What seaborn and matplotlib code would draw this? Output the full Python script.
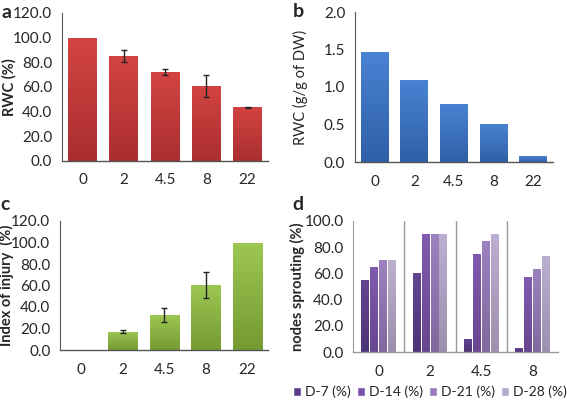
import matplotlib
matplotlib.use("Agg")
import matplotlib.pyplot as plt
import numpy as np
import pandas as pd
import seaborn as sns
from matplotlib.colors import LinearSegmentedColormap

# x categories (shared)
times = ["0", "2", "4.5", "8", "22"]

# panel a: RWC (%)
rwc_pct = [100.0, 85.0, 72.0, 61.0, 43.5]
rwc_pct_err = [0.0, 5.0, 2.5, 9.0, 0.5]

# panel b: RWC (g/g of DW)
rwc_gdw = [1.47, 1.10, 0.78, 0.51, 0.08]

# panel c: index of injury (%)
injury = [0.0, 17.0, 32.5, 60.5, 100.0]
injury_err = [0.0, 1.5, 6.5, 12.5, 0.0]

# panel d: nodes sprouting (%)
sprout_times = ["0", "2", "4.5", "8"]
days = ["D-7 (%)", "D-14 (%)", "D-21 (%)", "D-28 (%)"]
sprout = {
    "D-7 (%)": [55.0, 60.0, 10.0, 3.0],
    "D-14 (%)": [65.0, 90.0, 75.0, 57.0],
    "D-21 (%)": [70.0, 90.0, 85.0, 63.0],
    "D-28 (%)": [70.0, 90.0, 90.0, 73.0],
}

PURPLES = ["#5b3c8c", "#7a52aa", "#977bbb", "#b8aacd"]
TICK_FS = 11
LEGEND_FS = 10
LABEL_FS = 10.5

sns.set_style("white")
plt.rcParams["font.family"] = ["Lato", "DejaVu Sans"]
plt.rcParams["axes.edgecolor"] = "#555555"


def gradient_bars(ax, top, bottom):
    """Replace flat bar faces with a vertical light-to-dark gradient."""
    for p in list(ax.patches):
        h = p.get_height()
        if h <= 0:
            continue
        x0, y0 = p.get_x(), p.get_y()
        w = p.get_width()
        c = p.get_facecolor()
        cmap = LinearSegmentedColormap.from_list("g", [bottom(c), top(c)])
        img = ax.imshow(np.linspace(0, 1, 64).reshape(-1, 1), cmap=cmap,
                        origin="lower", extent=(x0, x0 + w, y0, y0 + h),
                        aspect="auto", zorder=p.get_zorder(), interpolation="bilinear")
        img.set_clip_path(p)
        p.set_facecolor("none")


def shade(f):
    def _s(c):
        c = np.array(c[:3])
        if f > 1:
            return tuple(c + (1 - c) * (f - 1))
        return tuple(c * f)
    return _s


def add_errors(ax, vals, errs):
    # only bars that actually have an error bar
    idx = [i for i, e in enumerate(errs) if e > 0]
    ax.errorbar(idx, [vals[i] for i in idx], yerr=[errs[i] for i in idx], fmt="none",
                ecolor="#222222", elinewidth=1, capsize=2.5, zorder=5)


def style_axes(ax, n, ymax, ystep, ylabel, label_x, bold=True, xpad=9):
    ticks = np.arange(0, ymax + ystep / 2, ystep)
    ax.set_xlim(-0.5, n - 0.5)
    ax.set_ylim(0, ymax)
    ax.set_yticks(ticks)
    ax.set_yticklabels([f"{v:.1f}" for v in ticks])
    ax.set_xticks(np.arange(-0.5, n, 1.0), minor=True)
    ax.tick_params(axis="x", which="major", length=0, pad=xpad, labelsize=TICK_FS)
    ax.tick_params(axis="x", which="minor", length=4, width=0.8, color="#555555", direction="out")
    ax.tick_params(axis="y", length=4, width=0.8, color="#555555", direction="out",
                   labelsize=TICK_FS, pad=3)
    ax.spines["top"].set_visible(False)
    ax.spines["right"].set_visible(False)
    ax.spines["left"].set_linewidth(0.8)
    ax.spines["bottom"].set_linewidth(1.0)
    ax.set_xlabel("")
    ax.set_ylabel(ylabel, fontsize=LABEL_FS, fontweight="bold" if bold else "normal")
    ax.yaxis.set_label_coords(label_x, 0.5)


fig = plt.figure(figsize=(5.67, 4.0), dpi=100)
ax_a = fig.add_axes([0.109, 0.5975, 0.364, 0.37])
ax_b = fig.add_axes([0.626, 0.595, 0.349, 0.375])
ax_c = fig.add_axes([0.106, 0.125, 0.367, 0.3225])
ax_d = fig.add_axes([0.623, 0.12, 0.361, 0.3275])

# a
df_a = pd.DataFrame({"time": times, "rwc": rwc_pct})
sns.barplot(data=df_a, x="time", y="rwc", color="#d03939", saturation=1, width=0.7,
            errorbar=None, ax=ax_a)
gradient_bars(ax_a, shade(1.05), shade(0.82))
add_errors(ax_a, rwc_pct, rwc_pct_err)
style_axes(ax_a, 5, 120, 20, "RWC (%)", -0.218)

# b
df_b = pd.DataFrame({"time": times, "rwc": rwc_gdw})
sns.barplot(data=df_b, x="time", y="rwc", color="#3a78d0", saturation=1, width=0.7,
            errorbar=None, ax=ax_b)
gradient_bars(ax_b, shade(1.08), shade(0.8))
style_axes(ax_b, 5, 2.0, 0.5, "RWC (g/g of DW)", -0.237, bold=False)

# c
df_c = pd.DataFrame({"time": times, "injury": injury})
sns.barplot(data=df_c, x="time", y="injury", color="#92c13f", saturation=1, width=0.7,
            errorbar=None, ax=ax_c)
gradient_bars(ax_c, shade(1.1), shade(0.8))
add_errors(ax_c, injury, injury_err)
style_axes(ax_c, 5, 120, 20, "Index of injury  (%)", -0.221)

# d
df_d = pd.DataFrame([(t, d, sprout[d][i]) for d in days for i, t in enumerate(sprout_times)],
                    columns=["time", "day", "value"])
sns.barplot(data=df_d, x="time", y="value", hue="day", hue_order=days, order=sprout_times,
            palette=PURPLES, saturation=1, width=0.7, gap=0.12, errorbar=None, ax=ax_d)
gradient_bars(ax_d, shade(1.05), shade(0.85))
style_axes(ax_d, 4, 100, 20, "nodes sprouting (%)", -0.234)
for b in np.arange(0.5, 3.5, 1.0):
    ax_d.axvline(b, color="#9a9a9a", linewidth=1.0, zorder=0)
ax_d.spines["left"].set_color("#9a9a9a")
ax_d.spines["bottom"].set_color("#9a9a9a")
handles, labels = ax_d.get_legend_handles_labels()
ax_d.get_legend().remove()
fig.legend(handles, labels, loc="center", bbox_to_anchor=(0.758, 0.02), ncol=4,
           frameon=False, fontsize=LEGEND_FS, handlelength=0.6, handleheight=0.6,
           handletextpad=0.25, columnspacing=0.45, borderaxespad=0, borderpad=0)

# panel letters
for x, y, t in [(0.002, 0.99, "a"), (0.516, 0.993, "b"), (0.0, 0.51, "c"), (0.516, 0.51, "d")]:
    fig.text(x, y, t, fontsize=14, fontweight="bold", va="top", ha="left")

fig.savefig("out.png", dpi=100)
